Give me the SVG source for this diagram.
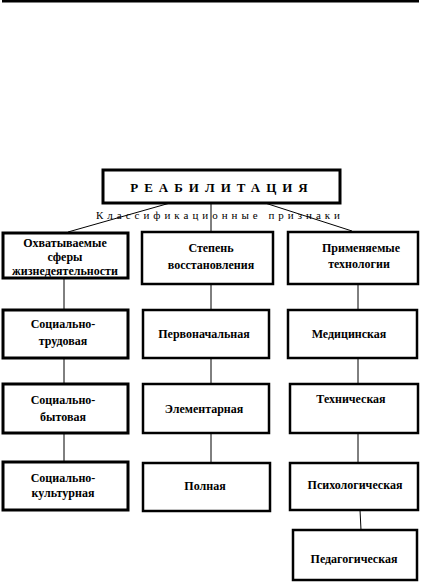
<svg xmlns="http://www.w3.org/2000/svg" width="421" height="582" viewBox="0 0 421 582">
<style>
.box{fill:#fff;stroke:#000;stroke-width:2.5}
.thick{stroke-width:3}
.t{font-family:"Liberation Serif","Times New Roman",serif;font-size:12px;font-weight:bold;fill:#000;text-anchor:middle}
.c line{stroke:#000;stroke-width:1}
</style>
<rect x="2" y="0" width="417" height="2.5" fill="#000"/>
<g class="c" id="connectors">
<line x1="170" y1="203" x2="68" y2="232"/>
<line x1="211" y1="203" x2="211" y2="232"/>
<line x1="265" y1="203" x2="352" y2="231"/>
<line x1="64" y1="278" x2="64" y2="310"/>
<line x1="211" y1="284" x2="211" y2="310"/>
<line x1="358" y1="284" x2="358" y2="310"/>
<line x1="64" y1="358" x2="64" y2="384"/>
<line x1="211" y1="358" x2="211" y2="384"/>
<line x1="358" y1="358" x2="358" y2="384"/>
<line x1="64" y1="433" x2="64" y2="462"/>
<line x1="211" y1="433" x2="211" y2="463"/>
<line x1="358" y1="433" x2="358" y2="463"/>
<line x1="360" y1="510" x2="361" y2="530"/>
</g>
<g id="title">
<rect class="box thick" x="103" y="170" width="237" height="33"/>
<text class="t" x="222" y="192" font-size="13" style="font-size:13px;letter-spacing:6px">РЕАБИЛИТАЦИЯ</text>
</g>
<text x="96" y="219" font-family="Liberation Serif, serif" font-size="11" textLength="244" lengthAdjust="spacing">Классификационные признаки</text>
<g id="n1">
<rect class="box thick" x="3" y="233" width="125" height="45"/>
<text class="t" x="65" y="247">Охватываемые</text>
<text class="t" x="65" y="261">сферы</text>
<text class="t" x="65" y="275">жизнедеятельности</text>
</g>
<g id="n2">
<rect class="box" x="142" y="232" width="131" height="52"/>
<text class="t" x="211" y="252">Степень</text>
<text class="t" x="211" y="269">восстановления</text>
</g>
<g id="n3">
<rect class="box" x="288" y="232" width="130" height="52"/>
<text class="t" x="361" y="252">Применяемые</text>
<text class="t" x="359" y="268">технологии</text>
</g>
<g id="n4">
<rect class="box thick" x="3" y="310" width="125" height="48"/>
<text class="t" x="63" y="328">Социально-</text>
<text class="t" x="63" y="345">трудовая</text>
</g>
<g id="n5">
<rect class="box" x="143" y="310" width="126" height="48"/>
<text class="t" x="204" y="338">Первоначальная</text>
</g>
<g id="n6">
<rect class="box" x="288" y="310" width="129" height="48"/>
<text class="t" x="349" y="338">Медицинская</text>
</g>
<g id="n7">
<rect class="box thick" x="3" y="384" width="125" height="49"/>
<text class="t" x="63" y="404">Социально-</text>
<text class="t" x="63" y="421">бытовая</text>
</g>
<g id="n8">
<rect class="box" x="143" y="384" width="126" height="49"/>
<text class="t" x="204" y="413">Элементарная</text>
</g>
<g id="n9">
<rect class="box" x="290" y="384" width="128" height="49"/>
<text class="t" x="351" y="403">Техническая</text>
</g>
<g id="n10">
<rect class="box thick" x="3" y="462" width="125" height="48"/>
<text class="t" x="63" y="482">Социально-</text>
<text class="t" x="63" y="497">культурная</text>
</g>
<g id="n11">
<rect class="box" x="143" y="463" width="127" height="48"/>
<text class="t" x="205" y="490">Полная</text>
</g>
<g id="n12">
<rect class="box" x="290" y="463" width="128" height="47"/>
<text class="t" x="355" y="489">Психологическая</text>
</g>
<g id="n13">
<rect class="box" x="293" y="530" width="124" height="50"/>
<text class="t" x="354" y="563">Педагогическая</text>
</g>
</svg>
